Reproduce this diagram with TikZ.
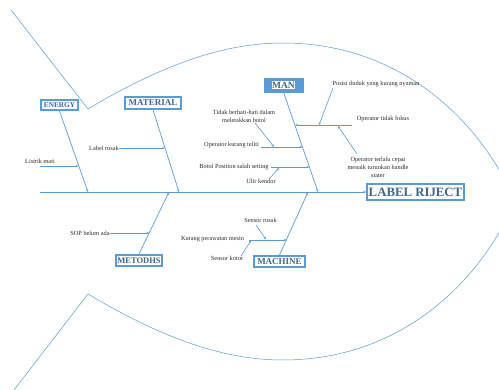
\documentclass[tikz,border=0pt]{standalone}
\usepackage{fontspec}
\setmainfont{Liberation Serif}
\usetikzlibrary{arrows.meta}
\definecolor{lineblue}{HTML}{5B9BD5}
\definecolor{boxtext}{HTML}{3F6590}
\definecolor{labtext}{HTML}{2B2B2B}
\tikzset{
  fishline/.style={draw=lineblue, line width=0.5pt},
  bone/.style={draw=lineblue, line width=0.7pt, -{Stealth[length=3pt,width=2.4pt]}},
  twig/.style={draw=lineblue, line width=0.6pt, -{Stealth[length=2.8pt,width=2.2pt]}},
  catbox/.style={draw=lineblue, line width=1.6pt, fill=white, text=boxtext, inner sep=0pt,
    font=\bfseries\fontsize{8.5}{9}\selectfont},
  lab/.style={text=labtext, inner sep=0.5pt, font=\fontsize{6.3}{7.9}\selectfont, align=center}
}
\begin{document}
\begin{tikzpicture}[x=1pt,y=-1pt]
\useasboundingbox (0,0) rectangle (499,390);
\fill[white] (0,0) rectangle (499,390);
\begin{scope}
\clip (0,0) rectangle (499,390);
% fish outline
\draw[fishline] (11,10) -- (88,109)
  .. controls (170,60) and (230,43) .. (283,43)
  .. controls (400,43) and (480,120) .. (515,201)
  .. controls (480,283) and (400,360) .. (283,360)
  .. controls (230,360) and (170,343) .. (88,294)
  -- (14,390);
\end{scope}

% head
\node[catbox, minimum width=97pt, minimum height=16pt, font=\bfseries\fontsize{12.8}{13}\selectfont] (head) at (415.5,192) {LABEL RIJECT};
% categories
\node[catbox, minimum width=37pt, minimum height=10.5pt, font=\bfseries\fontsize{7.3}{8}\selectfont] (energy) at (59.5,105) {ENERGY};
\node[catbox, minimum width=56pt, minimum height=12.5pt, font=\bfseries\fontsize{9}{10}\selectfont] (material) at (153,103) {MATERIAL};
\node[draw=lineblue, fill=lineblue, minimum width=39pt, minimum height=14pt, inner sep=0pt] (man) at (283.5,85) {};
\node[fill=white, text=boxtext, inner sep=0.6pt, font=\bfseries\fontsize{9.5}{10}\selectfont] (mantext) at (man.center) {MAN};
\node[catbox, minimum width=46pt, minimum height=11.5pt] (metodhs) at (139,260.5) {METODHS};
\node[catbox, minimum width=51pt, minimum height=11.5pt, font=\bfseries\fontsize{9}{10}\selectfont] (machine) at (279.5,261.5) {MACHINE};

% spine
\coordinate (tail) at (40,192);
\draw[bone] (tail) -- (head.west);
\coordinate (eE) at (88,192);
\coordinate (eMat) at (179,192);
\coordinate (eMan) at (318,192);
\coordinate (eMet) at (169,192);
\coordinate (eMac) at (308,192);
\draw[bone] (energy.south) -- (eE);
\draw[bone] (material.south) -- (eMat);
\draw[bone] (man.south) -- (eMan);
\draw[bone] (metodhs.north) -- (eMet);
\draw[bone] (machine.north) -- (eMac);

% ENERGY
\node[lab] (l1) at (40,161) {Listrik mati};
\coordinate (l1s) at (40,166); \coordinate (l1e) at (78.5,166);
\draw[twig] (l1s) -- (l1e);
% MATERIAL
\node[lab] (l2) at (104,148) {Label rusak};
\coordinate (l2e) at (165,148);
\draw[twig] (l2.east) -- (l2e);

% MAN
\node[lab] (m1) at (376,84) {Posisi duduk yang kurang nyaman};
\node[lab] (m2) at (383,119) {Operator tidak fokus};
\node[lab] (m3) at (378,167) {Operator terlalu cepat\\menaik turunkan handle\\stater};
\node[lab] (m4) at (244,116) {Tidak berhati-hati dalam\\meletakkan botol};
\node[lab] (m5) at (231.5,145) {Operator kurang teliti};
\node[lab] (m6) at (234,167) {Botol Position salah setting};
\node[lab] (m7) at (261,181) {Ulir kendor};

\coordinate (f1) at (352,125); \coordinate (f2) at (295,125);
\draw[twig] (f1) -- (f2);
\coordinate (p1) at (333,88); \coordinate (p2) at (319,125);
\draw[twig] (p1) -- (p2);
\coordinate (c1) at (357,154); \coordinate (c2) at (338,126);
\draw[twig] (c1) -- (c2);
\coordinate (t1) at (261,147); \coordinate (t2) at (302.5,147);
\draw[twig] (t1) -- (t2);
\coordinate (h1) at (255,123); \coordinate (h2) at (274,147);
\draw[twig] (h1) -- (h2);
\coordinate (b1) at (271,167); \coordinate (b2) at (309.4,167);
\draw[twig] (b1) -- (b2);
\coordinate (u1) at (269,179); \coordinate (u2) at (279,168);
\draw[twig] (u1) -- (u2);

% METODHS
\node[lab] (s1) at (90,233) {SOP belum ada};
\coordinate (s1e) at (149.2,233);
\draw[twig] (s1.east) -- (s1e);

% MACHINE
\node[lab] (k1) at (260.5,220) {Sensor rusak};
\node[lab] (k2) at (212.5,239) {Kurang perawatan mesin};
\node[lab] (k3) at (227,258) {Sensor kotor};
\coordinate (r1) at (256,225); \coordinate (r2) at (266,239.5);
\draw[twig] (r1) -- (r2);
\coordinate (q1) at (249,240); \coordinate (q2) at (286.7,240);
\draw[twig] (q1) -- (q2);
\coordinate (o1) at (241,256); \coordinate (o2) at (251,240.5);
\draw[twig] (o1) -- (o2);
\end{tikzpicture}
\end{document}
